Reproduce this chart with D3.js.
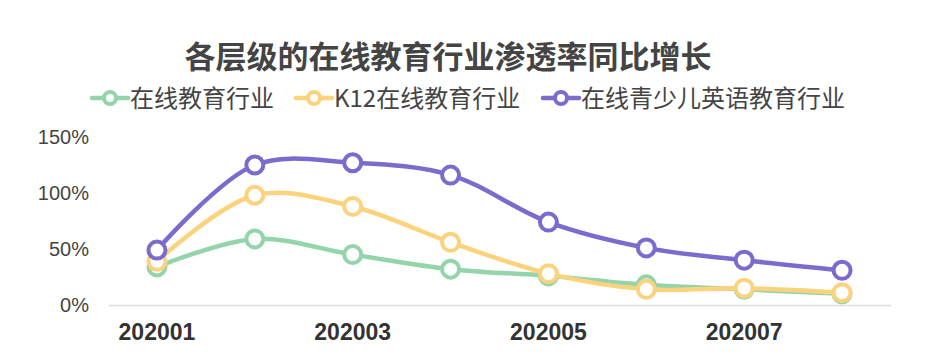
<!DOCTYPE html>
<html><head><meta charset="utf-8">
<script src="https://cdn.jsdelivr.net/npm/d3@7"></script>
<style>body{margin:0;background:#fff;}svg{display:block;}</style>
</head><body>
<script>
const categories = ["202001","202002","202003","202004","202005","202006","202007","202008"];
const seriesNames = ["在线教育行业","K12在线教育行业","在线青少儿英语教育行业"];
const onlineEdu = [34, 59, 45, 32, 26, 18, 14, 10];
const k12Edu = [39, 98, 88, 56, 28, 14, 15, 11];
const kidsEnglishEdu = [49, 125, 127, 116, 74, 51, 40, 31];
const yTicks = [0, 50, 100, 150];
const xTickLabels = ["202001","202003","202005","202007"];
const colors = ["#94d4aa","#fcd37d","#7c6bcd"];
const series = [onlineEdu, k12Edu, kidsEnglishEdu];

const W = 937, H = 355;
const svg = d3.select("body").append("svg").attr("width", W).attr("height", H);

const x = d3.scaleBand().domain(categories).range([108, 891]);
const y = d3.scaleLinear().domain([0, 150]).range([305, 137]);

// title
svg.append("text").attr("x", 448).attr("y", 68).attr("text-anchor", "middle")
  .attr("font-family", "'Noto Sans CJK SC', sans-serif").attr("font-weight", "bold")
  .attr("font-size", 31).attr("fill", "#444").text("各层级的在线教育行业渗透率同比增长");

// legend
const legendX = [92, 296, 543];
seriesNames.forEach((n, i) => {
  const g = svg.append("g").attr("transform", `translate(${legendX[i]},98)`);
  g.append("line").attr("x1", 0).attr("x2", 36).attr("stroke", colors[i]).attr("stroke-width", 4.5).attr("stroke-linecap", "round");
  g.append("circle").attr("cx", 18).attr("r", 6).attr("fill", "#fff").attr("stroke", colors[i]).attr("stroke-width", 4);
  g.append("text").attr("x", 38).attr("y", 0).attr("dy", "0.36em")
    .attr("font-family", "'Noto Sans CJK SC', sans-serif").attr("font-size", 24)
    .attr("fill", "#444").text(n);
});

// y axis labels
const yAxis = d3.axisLeft(y).tickValues(yTicks).tickSize(0).tickPadding(0).tickFormat(d => d + "%");
const yg = svg.append("g").attr("transform", "translate(89,0)").call(yAxis);
yg.select(".domain").remove();
yg.selectAll("text").attr("font-family", "'Liberation Sans', Arial, sans-serif").attr("font-size", 20).attr("fill", "#444");

// x axis
const xAxis = d3.axisBottom(x).tickValues(xTickLabels).tickSize(0).tickPadding(19);
const xg = svg.append("g").attr("transform", "translate(0,305)").call(xAxis);
xg.select(".domain").attr("stroke", "#ddd").attr("stroke-width", 1.5);
xg.selectAll("text").attr("font-family", "'Liberation Sans', Arial, sans-serif").attr("font-size", 23)
  .attr("font-weight", "bold").attr("fill", "#333");

const line = d3.line().x((d, i) => x(categories[i]) + x.bandwidth() / 2).y(d => y(d)).curve(d3.curveCatmullRom.alpha(0.5));

series.forEach((s, i) => {
  const g = svg.append("g");
  g.append("path").attr("d", line(s)).attr("fill", "none").attr("stroke", colors[i]).attr("stroke-width", 4.5);
  g.selectAll("circle").data(s).join("circle")
    .attr("cx", (d, j) => x(categories[j]) + x.bandwidth() / 2).attr("cy", d => y(d))
    .attr("r", 8.5).attr("fill", "#fff").attr("stroke", colors[i]).attr("stroke-width", 4);
});
</script>
</body></html>
